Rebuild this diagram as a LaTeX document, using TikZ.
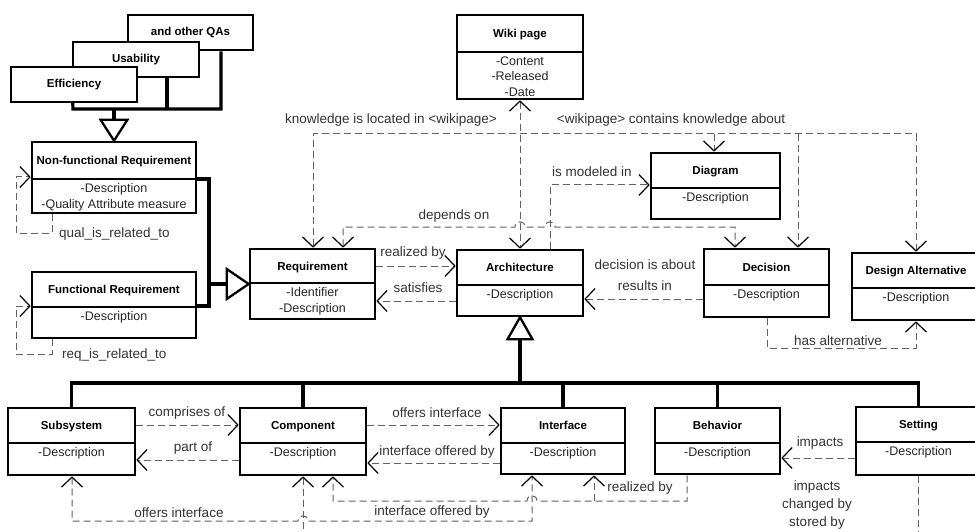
\documentclass[tikz,border=0pt]{standalone}
\usepackage{fontspec}
\setmainfont{Liberation Sans}
\usetikzlibrary{arrows.meta,calc}
\tikzset{
 cls/.style={draw=black, line width=2.6pt, fill=white, inner sep=0pt},
 divl/.style={draw=black, line width=2.6pt},
 ttl/.style={font=\fontsize{11.5}{13}\selectfont\bfseries, inner sep=0pt},
 attr/.style={font=\fontsize{12.5}{15.5}\selectfont, inner sep=0pt, align=center, text=black!85},
 lbl/.style={font=\fontsize{13.5}{18}\selectfont, inner sep=0pt, text=black!80, align=center},
 dep/.style={draw=black!62, line width=1pt, dash pattern=on 7pt off 4pt},
 gen/.style={draw=black, line width=3.2pt},
 tri/.style={draw=black, line width=2.3pt, fill=white, line join=miter},
 >={Straight Barb[length=10pt,width=21pt,line width=1.2pt,color=black]},
}
\newcommand\umlcls[8]{%
  \pgfmathsetmacro\ucx{(#2+#4)/2}%
  \pgfmathsetmacro\ucy{(#3+#5)/2}%
  \pgfmathsetmacro\ucw{#4-#2}%
  \pgfmathsetmacro\uch{#5-#3}%
  \pgfmathsetmacro\uct{(#3+#6)/2+4.1}%
  \pgfmathsetmacro\uca{#6+4.5}%
  \node[cls, minimum width=\ucw pt, minimum height=\uch pt] (#1) at (\ucx,\ucy) {};
  \draw[divl] (#1.west |- 0,#6) -- (#1.east |- 0,#6);
  \node[ttl, anchor=base] (#1-t) at (\ucx,\uct) {#7};
  \node[attr, anchor=north] (#1-a) at (\ucx,\uca) {#8};
}
\begin{document}
\begin{tikzpicture}[x=1pt,y=-1pt]
\useasboundingbox (0,0) rectangle (975,532);
\fill[white] (0,0) rectangle (975,532);
\clip (0,0) rectangle (975,532);

% quality attributes
\node[cls, ttl, minimum width=125pt, minimum height=35pt] (qa3) at (190.5,32.5) {and other QAs};
\node[cls, ttl, minimum width=126pt, minimum height=35pt] (qa2) at (136,59.5) {Usability};
\draw[gen] (qa2.south west) -- (73,109) -- (221,109) -- (qa3.south -| 221,0);
\draw[gen] (qa2.south -| 167,0) -- (167,109);
\node[cls, ttl, minimum width=126pt, minimum height=35pt] (qa1) at (74,84.5) {Efficiency};

% classes
\umlcls{wiki}{457}{15}{583}{99}{52}{Wiki page}{-Content\\-Released\\-Date}
\umlcls{nfr}{32}{142}{196}{213}{179}{Non-functional Requirement}{-Description\\-Quality Attribute measure}
\umlcls{fr}{32}{272}{196}{338}{307}{Functional Requirement}{-Description}
\umlcls{req}{250}{249}{375}{319}{283}{Requirement}{-Identifier\\-Description}
\umlcls{arch}{457}{250}{583}{316}{285}{Architecture}{-Description}
\umlcls{diag}{651}{153}{780}{219}{188}{Diagram}{-Description}
\umlcls{dec}{704}{249}{829}{317}{285}{Decision}{-Description}
\umlcls{dalt}{852}{253}{980}{320}{288}{Design Alternative}{-Description}
\umlcls{subs}{8}{408}{135}{475}{443}{Subsystem}{-Description}
\umlcls{comp}{240}{408}{366}{475}{443}{Component}{-Description}
\umlcls{intf}{501}{408}{625}{474}{443}{Interface}{-Description}
\umlcls{beh}{655}{408}{780}{474}{443}{Behavior}{-Description}
\umlcls{sett}{856}{407}{981}{475}{442}{Setting}{-Description}

% generalizations
\draw[gen] (114,109) -- ($(nfr.north)+(0,-21)$);
\draw[tri] (nfr.north) -- ++(-13.5,-21) -- ++(27,0) -- cycle;

\draw[gen] (nfr.east |- 0,179) -- (209,179) -- (209,306) -- (fr.east |- 0,306);
\draw[gen] (209,284) -- ($(req.west)+(-22,0)$);
\draw[tri] (req.west) -- ++(-22,-15) -- ++(0,30) -- cycle;

\draw[gen] ($(arch.south)+(0,22)$) -- (arch.south |- 0,383);
\draw[tri] (arch.south) -- ++(-12.5,22) -- ++(25,0) -- cycle;
\draw[gen] (subs.north) -- (subs.north |- 0,383) -- (sett.north |- 0,383) -- (sett.north);
\draw[gen] (comp.north) -- (comp.north |- 0,383);
\draw[gen] (intf.north) -- (intf.north |- 0,383);
\draw[gen] (beh.north) -- (beh.north |- 0,383);

% self loops
\draw[dep,->] (nfr.south -| 52,0) -- (52,233) -- (16,233) -- (16,177) -- (nfr.west |- 0,177);
\node[lbl, anchor=west] (lqual) at (59,234) {qual\_is\_related\_to};
\draw[dep,->] (fr.south -| 52,0) -- (52,354) -- (16,354) -- (16,306) -- (fr.west |- 0,306);
\node[lbl, anchor=west] (lreq) at (62,355) {req\_is\_related\_to};

% requirement - architecture
\draw[dep,->] (req.east |- 0,266) -- (arch.west |- 0,266);
\node[lbl] (lrb) at (413,253) {realized by};
\draw[dep,->] (arch.west |- 0,301) -- (req.east |- 0,301);
\node[lbl] (lsat) at (418,288) {satisfies};

% wiki
\draw[dep,<->] (wiki.south) -- (arch.north);
\draw[dep,<->] (req.north -| 313,0) -- (313,134) -- (916,134) -- (dalt.north -| 916,0);
\draw[dep,->] (714,134) -- (diag.north -| 714,0);
\draw[dep,->] (798,134) -- (dec.north -| 798,0);
\node[lbl] (lkn1) at (391,120) {knowledge is located in <wikipage>};
\node[lbl] (lkn2) at (671,120) {<wikipage> contains knowledge about};

% depends on
\draw[dep,<->] (req.north -| 343,0) -- (343,227) -- (515,227) .. controls (515,220) and (525,220) .. (525,227) -- (545,227) .. controls (545,220) and (555,220) .. (555,227) -- (735,227) -- (dec.north -| 735,0);
\node[lbl] (ldep) at (454,216) {depends on};

% is modeled in
\draw[dep,->] (arch.north -| 550,0) -- (550,185) -- (diag.west |- 0,185);
\node[lbl] (lmod) at (592,172) {is modeled in};

% decision
\draw[dep,->] (dec.west |- 0,299) -- (arch.east |- 0,299);
\node[lbl, font=\fontsize{13.5}{21}\selectfont] (ldec) at (645,275.5) {decision is about\\results in};
\draw[dep,->] (dec.south -| 767,0) -- (767,348) -- (916,348) -- (dalt.south -| 916,0);
\node[lbl] (lalt) at (838,341) {has alternative};

% bottom row
\draw[dep,->] (subs.east |- 0,425) -- (comp.west |- 0,425);
\node[lbl] (lcomp) at (187,413) {comprises of};
\draw[dep,->] (comp.west |- 0,460) -- (subs.east |- 0,460);
\node[lbl] (lpart) at (193,448) {part of};
\draw[dep,->] (comp.east |- 0,425) -- (intf.west |- 0,425);
\node[lbl] (loff) at (437,413) {offers interface};
\draw[dep,->] (intf.west |- 0,463) -- (comp.east |- 0,463);
\node[lbl] (liob) at (437,452) {interface offered by};
\draw[dep,->] (sett.west |- 0,458) -- (beh.east |- 0,458);
\node[lbl] (limp) at (820,443) {impacts};

\draw[dep,<->] (subs.south -| 72,0) -- (72,521) -- (298,521) .. controls (298,514) and (308,514) .. (308,521) -- (532,521) -- (intf.south -| 532,0);
\node[lbl] (loff2) at (179,513) {offers interface};
\node[lbl] (liob2) at (432,512) {interface offered by};
\draw[dep,->] (beh.south -| 687,0) -- (687,501) -- (537,501) .. controls (537,494) and (527,494) .. (527,501) -- (333,501) -- (comp.south -| 333,0);
\draw[dep,->] (594,501) -- (intf.south -| 594,0);
\node[lbl] (lrb2) at (640,488) {realized by};
\draw[dep,<-] (comp.south -| 303,0) -- (303,545);
\draw[dep] (sett.south -| 918,0) -- (918,545);
\node[lbl] (lset) at (817,505) {impacts\\changed by\\stored by};
\end{tikzpicture}
\end{document}
